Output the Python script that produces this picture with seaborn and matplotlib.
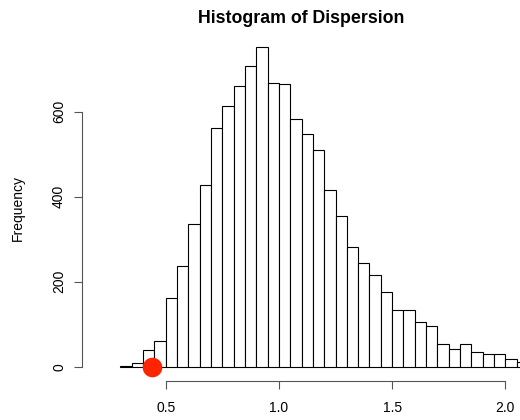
import numpy as np
import pandas as pd
import seaborn as sns
from matplotlib import pyplot as plt

# bin counts, bins of width 0.05 starting at 0.30
bin_width = 0.05
bin_start = 0.30
counts = [2, 9, 40, 60, 161, 237, 336, 428, 561, 613, 660, 707, 752, 668,
          664, 582, 547, 509, 416, 354, 282, 245, 216, 175, 134, 133, 106,
          95, 53, 42, 54, 35, 29, 31, 17, 12]
x_ticks = [0.5, 1.0, 1.5, 2.0]
y_ticks = [0, 200, 400, 600]
observed = [0.438]  # the red point on the axis

n = len(counts)
df = pd.DataFrame({"mid": bin_start + bin_width * (np.arange(n) + 0.5),
                   "count": counts})

sns.set_style("ticks")
plt.rcParams['font.family'] = ['Liberation Sans', 'DejaVu Sans']
plt.rcParams['text.color'] = 'black'

fig = plt.figure(figsize=(5.2, 4.2), dpi=100)
ax = fig.add_axes([82 / 520, 39.3 / 420, 438 / 520, 350.7 / 420])

sns.histplot(data=df, x="mid", weights="count", binwidth=bin_width,
             binrange=(bin_start, bin_start + n * bin_width), stat="count",
             color="white", edgecolor="black", linewidth=0.8, alpha=1,
             ax=ax)
sns.scatterplot(x=observed, y=[0] * len(observed), color="#ff2400", s=200,
                linewidth=0, zorder=5, clip_on=False, ax=ax)

ax.set_xlim(0.130, 2.065)
ax.set_ylim(-32.9, 792)
ax.set_xticks(x_ticks)
ax.set_xticklabels([f"{t:.1f}" for t in x_ticks])
ax.set_yticks(y_ticks)
ax.set_yticklabels([str(t) for t in y_ticks], rotation=90, va="center")

for s in ["top", "right"]:
    ax.spines[s].set_visible(False)
ax.spines["left"].set_bounds(0, 600)
ax.spines["bottom"].set_bounds(0.5, 2.0)
for s in ["left", "bottom"]:
    ax.spines[s].set_color("#555555")
    ax.spines[s].set_linewidth(0.8)
ax.tick_params(axis="both", direction="out", length=5.5, width=0.8,
               color="#555555", labelsize=10, labelcolor="black")
ax.tick_params(axis="x", pad=9)
ax.tick_params(axis="y", pad=6)
ax.set_xlabel("")
ax.set_ylabel("")

fig.text(301.5 / 520, 1 - 18.5 / 420, "Histogram of Dispersion",
         ha="center", va="center", fontsize=12.8, fontweight="bold",
         color="black")
fig.text(18 / 520, 1 - 208 / 420, "Frequency", rotation=90,
         ha="center", va="center", fontsize=10, color="black")

plt.savefig("out.png", dpi=100)
